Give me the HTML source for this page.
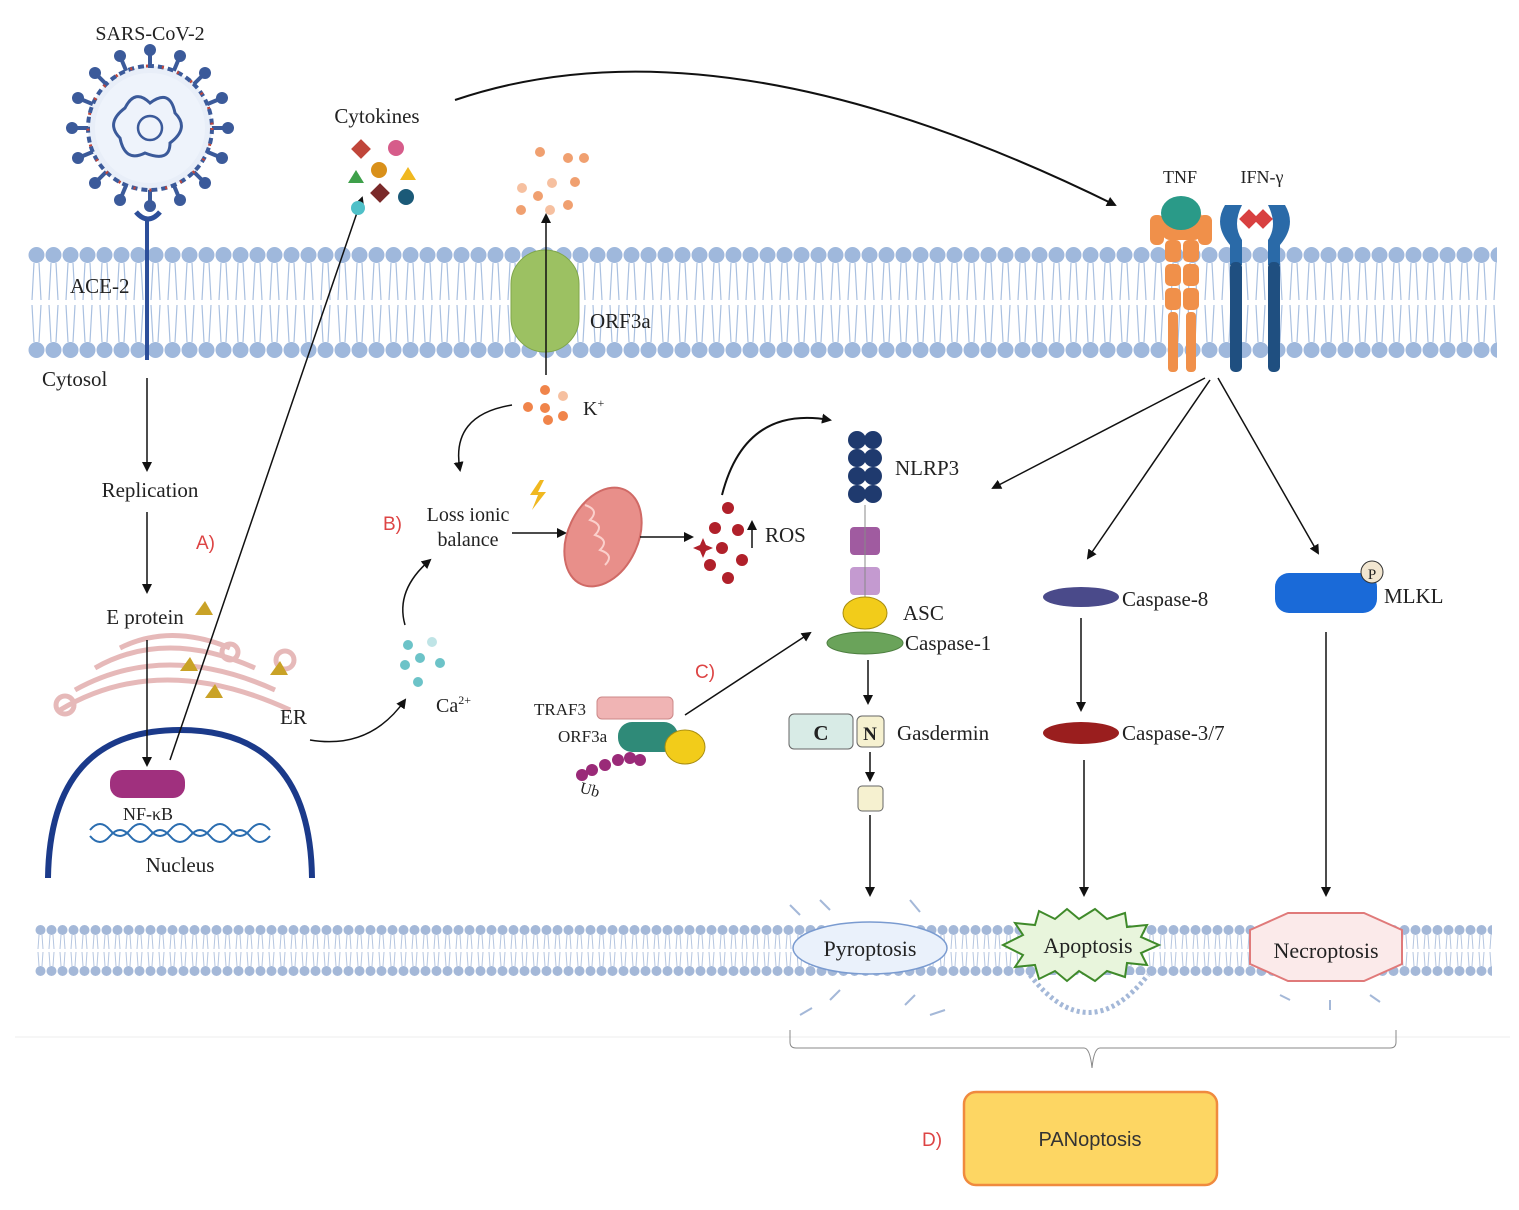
<!DOCTYPE html>
<html><head><meta charset="utf-8"><style>
body{margin:0;background:#fff}
svg text{font-family:"Liberation Serif",serif;fill:#222}
.s{font-family:"Liberation Sans",sans-serif}
</style></head><body>
<svg width="1519" height="1205" viewBox="0 0 1519 1205" xmlns="http://www.w3.org/2000/svg">
<defs>
<marker id="ar" markerWidth="10" markerHeight="10" refX="8" refY="5" orient="auto" markerUnits="userSpaceOnUse"><path d="M0,0 L10,5 L0,10 z" fill="#111"/></marker>
<pattern id="memTop" x="28" y="245" width="17" height="115" patternUnits="userSpaceOnUse">
<circle cx="8.5" cy="10" r="8" fill="#9fb8dc"/>
<circle cx="8.5" cy="105" r="8" fill="#9fb8dc"/>
<path d="M6,18 L4,55 M11,18 L13,55 M6,97 L4,60 M11,97 L13,60" stroke="#a9c0e0" stroke-width="1.2" fill="none"/>
</pattern>
<pattern id="memBot" x="35" y="924" width="11" height="52" patternUnits="userSpaceOnUse">
<circle cx="5.5" cy="6" r="5" fill="#a4b8d8"/>
<circle cx="5.5" cy="47" r="5" fill="#a4b8d8"/>
<path d="M4,11 L3,25 M7,11 L8,25 M4,42 L3,28 M7,42 L8,28" stroke="#b5c6e0" stroke-width="1" fill="none"/>
</pattern>
</defs>
<rect x="28" y="245" width="1469" height="115" fill="url(#memTop)"/>
<rect x="35" y="924" width="1457" height="52" fill="url(#memBot)"/>
<line x1="15" y1="1037" x2="1510" y2="1037" stroke="#eee"/>

<g transform="translate(150,128)">
<g stroke="#3b5a9a" stroke-width="4">
<line x1="0" y1="-78" x2="0" y2="78"/><line x1="-78" y1="0" x2="78" y2="0"/>
<line x1="-55" y1="-55" x2="55" y2="55"/><line x1="55" y1="-55" x2="-55" y2="55"/>
<line x1="-30" y1="-72" x2="30" y2="72"/><line x1="30" y1="-72" x2="-30" y2="72"/>
<line x1="-72" y1="-30" x2="72" y2="30"/><line x1="72" y1="-30" x2="-72" y2="30"/>
</g>
<g fill="#3b5a9a">
<circle cx="0" cy="-78" r="6"/><circle cx="0" cy="78" r="6"/><circle cx="-78" cy="0" r="6"/><circle cx="78" cy="0" r="6"/>
<circle cx="-55" cy="-55" r="6"/><circle cx="55" cy="55" r="6"/><circle cx="55" cy="-55" r="6"/><circle cx="-55" cy="55" r="6"/>
<circle cx="-30" cy="-72" r="6"/><circle cx="30" cy="72" r="6"/><circle cx="30" cy="-72" r="6"/><circle cx="-30" cy="72" r="6"/>
<circle cx="-72" cy="-30" r="6"/><circle cx="72" cy="30" r="6"/><circle cx="72" cy="-30" r="6"/><circle cx="-72" cy="30" r="6"/>
</g>
<circle r="62" fill="#e8eef8" stroke="#3b5a9a" stroke-width="4" stroke-dasharray="6 4"/>
<circle r="62" fill="none" stroke="#c0453a" stroke-width="3" stroke-dasharray="2 14"/>
<circle r="55" fill="#eef3fb"/>
<path d="M-25,-20 q10,-20 25,-5 q20,-15 25,10 q15,15 -5,30 q0,20 -25,10 q-20,10 -25,-15 q-15,-15 5,-30z" fill="none" stroke="#3b5a9a" stroke-width="3"/>
<circle r="12" fill="none" stroke="#3b5a9a" stroke-width="2.5"/>
</g>
<text x="150" y="40" font-size="20" text-anchor="middle">SARS-CoV-2</text>
<path d="M136,212 q12,14 24,0" fill="none" stroke="#2d4f9a" stroke-width="5"/>
<line x1="147" y1="218" x2="147" y2="360" stroke="#2d4f9a" stroke-width="4"/>
<text x="70" y="293" font-size="21">ACE-2</text>
<text x="42" y="386" font-size="21">Cytosol</text>

<line x1="147" y1="378" x2="147" y2="470" stroke="#111" stroke-width="1.5" marker-end="url(#ar)"/>
<text x="150" y="497" font-size="21" text-anchor="middle">Replication</text>
<line x1="147" y1="512" x2="147" y2="592" stroke="#111" stroke-width="1.5" marker-end="url(#ar)"/>
<text x="145" y="624" font-size="21" text-anchor="middle">E protein</text>
<path d="M195,615 l10,-14 l8,14z" fill="#c9a227"/>
<text x="196" y="549" font-size="19" class="s" style="fill:#d44">A)</text>

<g fill="none" stroke="#e6b9b9" stroke-width="5">
<path d="M60,710 q100,-60 230,0"/><path d="M75,690 q90,-50 200,0"/><path d="M95,668 q70,-40 160,0"/><path d="M120,648 q50,-25 110,0"/>
<circle cx="65" cy="705" r="9"/><circle cx="285" cy="660" r="9"/><circle cx="230" cy="652" r="8"/>
</g>
<path d="M180,671 l10,-14 l8,14z M270,675 l10,-14 l8,14z M205,698 l10,-14 l8,14z" fill="#c9a227"/>
<text x="280" y="724" font-size="21">ER</text>
<path d="M48,878 Q50,730 180,730 Q310,730 312,878" fill="none" stroke="#1b3a8a" stroke-width="6"/>
<rect x="110" y="770" width="75" height="28" rx="12" fill="#a0307e"/>
<text x="148" y="820" font-size="18" text-anchor="middle">NF-κB</text>
<path d="M90,830 q10,-12 20,0 t20,0 t20,0 t20,0 t20,0 t20,0 t20,0 t20,0 t20,0" fill="none" stroke="#2a6db0" stroke-width="2"/>
<path d="M90,836 q10,12 20,0 t20,0 t20,0 t20,0 t20,0 t20,0 t20,0 t20,0 t20,0" fill="none" stroke="#2a6db0" stroke-width="2"/>
<text x="180" y="872" font-size="21" text-anchor="middle">Nucleus</text>
<line x1="147" y1="640" x2="147" y2="765" stroke="#111" stroke-width="1.5" marker-end="url(#ar)"/>
<line x1="170" y1="760" x2="362" y2="198" stroke="#111" stroke-width="1.5" marker-end="url(#ar)"/>

<text x="377" y="123" font-size="21" text-anchor="middle">Cytokines</text>
<rect x="354" y="142" width="14" height="14" fill="#c0453a" transform="rotate(45 361 149)"/>
<circle cx="396" cy="148" r="8" fill="#d65c8a"/>
<path d="M348,183 l8,-13 l8,13z" fill="#3ea04a"/>
<circle cx="379" cy="170" r="8" fill="#d9901a"/>
<path d="M400,180 l8,-13 l8,13z" fill="#f0b820"/>
<rect x="373" y="186" width="14" height="14" fill="#7a2a2a" transform="rotate(45 380 193)"/>
<circle cx="358" cy="208" r="7" fill="#4fc0c8"/>
<circle cx="406" cy="197" r="8" fill="#1b5a78"/>
<path d="M455,100 Q720,10 1115,205" fill="none" stroke="#111" stroke-width="2" marker-end="url(#ar)"/>

<g fill="#f0a070">
<circle cx="540" cy="152" r="5"/><circle cx="568" cy="158" r="5"/><circle cx="584" cy="158" r="5"/><circle cx="552" cy="183" r="5" fill="#f6c0a0"/><circle cx="522" cy="188" r="5" fill="#f6c0a0"/><circle cx="575" cy="182" r="5"/><circle cx="538" cy="196" r="5"/><circle cx="568" cy="205" r="5"/><circle cx="521" cy="210" r="5"/><circle cx="550" cy="210" r="5" fill="#f6c0a0"/>
</g>
<rect x="511" y="250" width="68" height="102" rx="34" fill="#9cc162" stroke="#7fa64a"/>
<text x="590" y="328" font-size="21">ORF3a</text>
<line x1="546" y1="375" x2="546" y2="215" stroke="#111" stroke-width="1.5" marker-end="url(#ar)"/>
<g fill="#f0844a"><circle cx="545" cy="390" r="5"/><circle cx="528" cy="407" r="5"/><circle cx="545" cy="408" r="5"/><circle cx="563" cy="416" r="5"/><circle cx="548" cy="420" r="5"/><circle cx="563" cy="396" r="5" fill="#f6c0a0"/></g>
<text x="583" y="415" font-size="20">K<tspan font-size="12" dy="-8">+</tspan></text>
<path d="M512,405 Q450,415 460,470" fill="none" stroke="#111" stroke-width="1.5" marker-end="url(#ar)"/>

<text x="383" y="530" font-size="19" class="s" style="fill:#d44">B)</text>
<text x="468" y="521" font-size="20" text-anchor="middle">Loss ionic</text>
<text x="468" y="546" font-size="20" text-anchor="middle">balance</text>
<path d="M540,480 l-10,15 h8 l-6,15 l14,-18 h-8 l6,-12z" fill="#f0b820"/>
<line x1="512" y1="533" x2="565" y2="533" stroke="#111" stroke-width="1.5" marker-end="url(#ar)"/>
<ellipse cx="603" cy="537" rx="35" ry="52" transform="rotate(25 603 537)" fill="#e88f8a" stroke="#d06a66" stroke-width="2"/>
<path d="M585,505 q15,5 5,15 q15,5 5,15 q15,5 5,15 q15,5 5,15" fill="none" stroke="#fbd0cc" stroke-width="2"/>
<line x1="640" y1="537" x2="692" y2="537" stroke="#111" stroke-width="1.5" marker-end="url(#ar)"/>
<g fill="#b0202a"><circle cx="728" cy="508" r="6"/><circle cx="715" cy="528" r="6"/><circle cx="738" cy="530" r="6"/><circle cx="722" cy="548" r="6"/><circle cx="742" cy="560" r="6"/><circle cx="710" cy="565" r="6"/><circle cx="728" cy="578" r="6"/><path d="M700,545 l3,-7 l3,7 l7,3 l-7,3 l-3,7 l-3,-7 l-7,-3z"/></g>
<text x="765" y="542" font-size="21">ROS</text>
<line x1="752" y1="548" x2="752" y2="522" stroke="#111" stroke-width="1.5" marker-end="url(#ar)"/>
<path d="M722,495 Q745,405 830,420" fill="none" stroke="#111" stroke-width="2" marker-end="url(#ar)"/>

<path d="M310,740 Q370,750 405,700" fill="none" stroke="#111" stroke-width="1.5" marker-end="url(#ar)"/>
<g fill="#6cc3c8"><circle cx="408" cy="645" r="5"/><circle cx="432" cy="642" r="5" fill="#bfe4e6"/><circle cx="420" cy="658" r="5"/><circle cx="405" cy="665" r="5"/><circle cx="440" cy="663" r="5"/><circle cx="418" cy="682" r="5"/></g>
<text x="436" y="712" font-size="20">Ca<tspan font-size="12" dy="-8">2+</tspan></text>
<path d="M405,625 Q395,590 430,560" fill="none" stroke="#111" stroke-width="1.5" marker-end="url(#ar)"/>

<text x="534" y="715" font-size="17">TRAF3</text>
<rect x="597" y="697" width="76" height="22" rx="5" fill="#f0b4b4" stroke="#c88"/>
<text x="558" y="742" font-size="17">ORF3a</text>
<rect x="618" y="722" width="60" height="30" rx="14" fill="#2f8a78"/>
<ellipse cx="685" cy="747" rx="20" ry="17" fill="#f2cc1a" stroke="#a88d10"/>
<g fill="#9a2a78"><circle cx="618" cy="760" r="6"/><circle cx="605" cy="765" r="6"/><circle cx="592" cy="770" r="6"/><circle cx="640" cy="760" r="6"/><circle cx="630" cy="758" r="6"/><circle cx="582" cy="775" r="6"/></g>
<text x="580" y="795" font-size="16" transform="rotate(15 590 790)">Ub</text>
<text x="695" y="678" font-size="19" class="s" style="fill:#d44">C)</text>
<line x1="685" y1="715" x2="810" y2="633" stroke="#111" stroke-width="1.5" marker-end="url(#ar)"/>

<g fill="#1f3a6e"><circle cx="857" cy="440" r="9"/><circle cx="873" cy="440" r="9"/><circle cx="857" cy="458" r="9"/><circle cx="873" cy="458" r="9"/><circle cx="857" cy="476" r="9"/><circle cx="873" cy="476" r="9"/><circle cx="857" cy="494" r="9"/><circle cx="873" cy="494" r="9"/></g>
<text x="895" y="475" font-size="21">NLRP3</text>
<rect x="850" y="527" width="30" height="28" rx="4" fill="#a05ba0"/>
<rect x="850" y="567" width="30" height="28" rx="4" fill="#c49ad0"/>
<line x1="865" y1="505" x2="865" y2="600" stroke="#888" stroke-width="1"/>
<ellipse cx="865" cy="613" rx="22" ry="16" fill="#f2cc1a" stroke="#a88d10"/>
<text x="903" y="620" font-size="21">ASC</text>
<ellipse cx="865" cy="643" rx="38" ry="11" fill="#6aa35a" stroke="#4d7f40"/>
<text x="905" y="650" font-size="21">Caspase-1</text>
<line x1="868" y1="660" x2="868" y2="703" stroke="#111" stroke-width="1.5" marker-end="url(#ar)"/>
<rect x="789" y="714" width="64" height="35" rx="5" fill="#d8ebe6" stroke="#666"/>
<text x="821" y="740" font-size="21" text-anchor="middle" font-weight="bold">C</text>
<rect x="857" y="716" width="27" height="31" rx="5" fill="#f6f1d0" stroke="#666"/>
<text x="870" y="740" font-size="19" text-anchor="middle" font-weight="bold">N</text>
<text x="897" y="740" font-size="21">Gasdermin</text>
<line x1="870" y1="752" x2="870" y2="780" stroke="#111" stroke-width="1.5" marker-end="url(#ar)"/>
<rect x="858" y="786" width="25" height="25" rx="4" fill="#f6f1d0" stroke="#666"/>
<line x1="870" y1="815" x2="870" y2="895" stroke="#111" stroke-width="1.5" marker-end="url(#ar)"/>

<text x="1180" y="183" font-size="18" text-anchor="middle">TNF</text>
<text x="1262" y="183" font-size="18" text-anchor="middle">IFN-γ</text>
<g fill="#f0904a">
<rect x="1162" y="210" width="40" height="30" rx="8"/><rect x="1150" y="215" width="14" height="30" rx="6"/><rect x="1198" y="215" width="14" height="30" rx="6"/>
<rect x="1165" y="240" width="16" height="22" rx="5"/><rect x="1183" y="240" width="16" height="22" rx="5"/>
<rect x="1165" y="264" width="16" height="22" rx="5"/><rect x="1183" y="264" width="16" height="22" rx="5"/>
<rect x="1165" y="288" width="16" height="22" rx="5"/><rect x="1183" y="288" width="16" height="22" rx="5"/>
<rect x="1168" y="312" width="10" height="60" rx="4"/><rect x="1186" y="312" width="10" height="60" rx="4"/>
</g>
<ellipse cx="1181" cy="213" rx="20" ry="17" fill="#2a9a88"/>
<g fill="#2a6aa8">
<path d="M1225,205 q-12,20 5,40 v20 h12 v-25 q-10,-15 0,-35z"/>
<path d="M1285,205 q12,20 -5,40 v20 h-12 v-25 q10,-15 0,-35z"/>
<rect x="1230" y="262" width="12" height="110" rx="5" fill="#1f4f80"/><rect x="1268" y="262" width="12" height="110" rx="5" fill="#1f4f80"/>
</g>
<rect x="1242" y="212" width="14" height="14" fill="#d84040" transform="rotate(45 1249 219)"/>
<rect x="1256" y="212" width="14" height="14" fill="#d84040" transform="rotate(45 1263 219)"/>
<line x1="1205" y1="378" x2="993" y2="488" stroke="#111" stroke-width="1.5" marker-end="url(#ar)"/>
<line x1="1210" y1="380" x2="1088" y2="558" stroke="#111" stroke-width="1.5" marker-end="url(#ar)"/>
<line x1="1218" y1="378" x2="1318" y2="553" stroke="#111" stroke-width="1.5" marker-end="url(#ar)"/>

<ellipse cx="1081" cy="597" rx="38" ry="10" fill="#4a4a8a"/>
<text x="1122" y="606" font-size="21">Caspase-8</text>
<line x1="1081" y1="618" x2="1081" y2="710" stroke="#111" stroke-width="1.5" marker-end="url(#ar)"/>
<ellipse cx="1081" cy="733" rx="38" ry="11" fill="#9a1e1e"/>
<text x="1122" y="740" font-size="21">Caspase-3/7</text>
<line x1="1084" y1="760" x2="1084" y2="895" stroke="#111" stroke-width="1.5" marker-end="url(#ar)"/>
<rect x="1275" y="573" width="102" height="40" rx="14" fill="#1a6ad8"/>
<circle cx="1372" cy="572" r="11" fill="#f2e6d0" stroke="#333"/>
<text x="1372" y="579" font-size="15" text-anchor="middle">P</text>
<text x="1384" y="603" font-size="21">MLKL</text>
<line x1="1326" y1="632" x2="1326" y2="895" stroke="#111" stroke-width="1.5" marker-end="url(#ar)"/>

<g stroke="#a4b8d8" stroke-width="2">
<line x1="800" y1="1015" x2="812" y2="1008"/><line x1="830" y1="1000" x2="840" y2="990"/><line x1="905" y1="1005" x2="915" y2="995"/><line x1="930" y1="1015" x2="945" y2="1010"/>
<line x1="820" y1="900" x2="830" y2="910"/><line x1="910" y1="900" x2="920" y2="912"/><line x1="790" y1="905" x2="800" y2="915"/>
<line x1="1280" y1="995" x2="1290" y2="1000"/><line x1="1330" y1="1000" x2="1330" y2="1010"/><line x1="1370" y1="995" x2="1380" y2="1002"/>
</g>
<path d="M1030,975 Q1088,1050 1148,975" fill="#fff" stroke="#a4b8d8" stroke-width="5" stroke-dasharray="3 3"/>
<ellipse cx="870" cy="948" rx="77" ry="26" fill="#eaf1fb" stroke="#7a9bd0" stroke-width="1.5"/>
<text x="870" y="956" font-size="22" text-anchor="middle">Pyroptosis</text>
<path d="M1003,945 l20,-10 l-8,-12 l20,2 l4,-14 l16,8 l12,-10 l12,10 l16,-10 l12,10 l18,-6 l2,14 l20,-2 l-6,12 l18,8 l-18,8 l6,12 l-20,-2 l-2,14 l-18,-6 l-12,10 l-16,-10 l-12,10 l-12,-10 l-16,8 l-4,-14 l-20,2 l8,-12z" fill="#e8f5dc" stroke="#3f8a2a" stroke-width="2"/>
<text x="1088" y="953" font-size="22" text-anchor="middle">Apoptosis</text>
<path d="M1250,930 l38,-17 h76 l38,17 v34 l-38,17 h-76 l-38,-17z" fill="#fbeaea" stroke="#e07a7a" stroke-width="2"/>
<text x="1326" y="958" font-size="22" text-anchor="middle">Necroptosis</text>

<path d="M790,1030 v12 q0,6 6,6 h288 q6,0 8,20 q2,-20 8,-20 h290 q6,0 6,-6 v-12" fill="none" stroke="#888" stroke-width="1"/>
<rect x="964" y="1092" width="253" height="93" rx="12" fill="#fdd663" stroke="#f08a3e" stroke-width="2.5"/>
<text x="1090" y="1146" font-size="20" text-anchor="middle" class="s" style="fill:#333">PANoptosis</text>
<text x="922" y="1146" font-size="19" class="s" style="fill:#d44">D)</text>
</svg>
</body></html>
